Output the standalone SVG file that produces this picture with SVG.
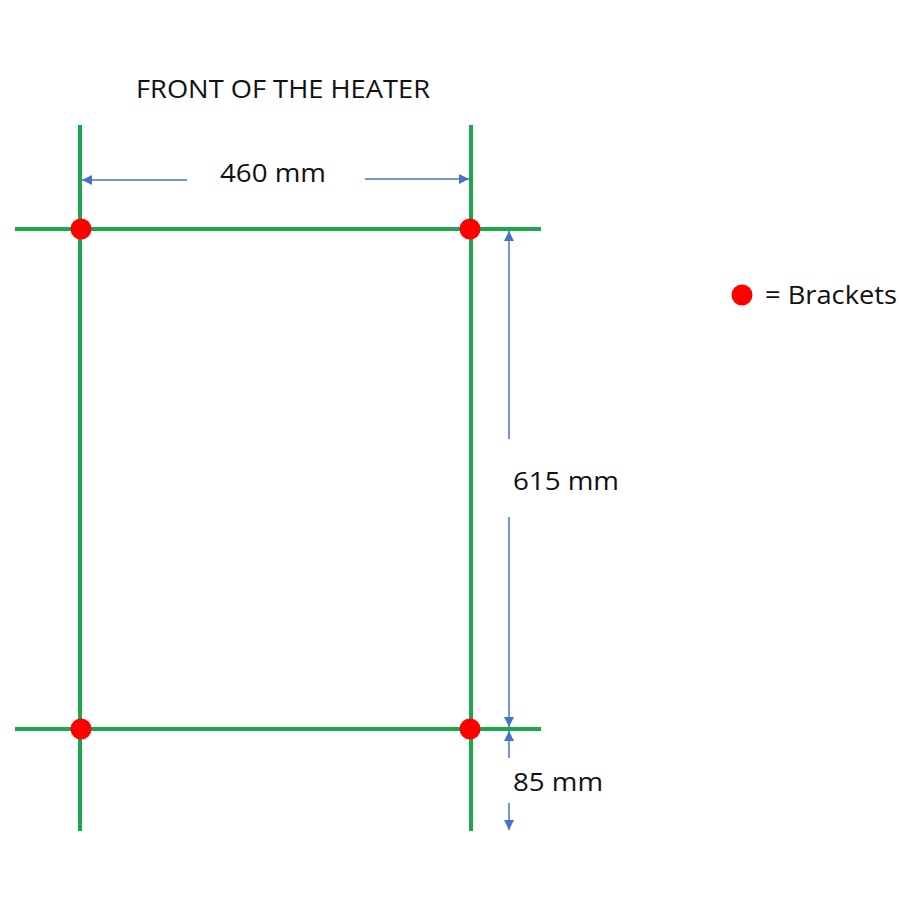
<svg xmlns="http://www.w3.org/2000/svg" width="900" height="900" viewBox="0 0 900 900">
<defs>
<style>
.g{stroke:#1aa84a;stroke-width:4;fill:none}
.b{stroke:#4472c4;stroke-width:1.5;fill:none}
.dot{fill:#ff0000}
.t{font-family:"Open Sans","Noto Sans",sans-serif;fill:#111;font-size:25px}
</style>
<marker id="ah" viewBox="0 0 10 10" refX="10" refY="5" markerWidth="10" markerHeight="10" markerUnits="userSpaceOnUse" orient="auto">
<path d="M0,0 L10,5 L0,10 Z" fill="#4472c4"/>
</marker>
</defs>
<rect width="900" height="900" fill="#fff"/>
<g id="frame">
<line class="g" x1="80" y1="125" x2="80" y2="831"/>
<line class="g" x1="471" y1="125" x2="471" y2="831"/>
<line class="g" x1="15" y1="229" x2="541" y2="229"/>
<line class="g" x1="15" y1="729" x2="541" y2="729"/>
</g>
<g id="brackets">
<circle class="dot" cx="81" cy="229" r="10.5"/>
<circle class="dot" cx="470" cy="229" r="10.5"/>
<circle class="dot" cx="81" cy="729" r="10.5"/>
<circle class="dot" cx="470" cy="729" r="10.5"/>
</g>
<g id="connectors">
<line class="b" x1="187" y1="180" x2="82" y2="180" marker-end="url(#ah)"/>
<line class="b" x1="365" y1="179" x2="469" y2="179" marker-end="url(#ah)"/>
<line class="b" x1="509" y1="439" x2="509" y2="231" marker-end="url(#ah)"/>
<line class="b" x1="509" y1="517" x2="509" y2="727" marker-end="url(#ah)"/>
<line class="b" x1="509" y1="758" x2="509" y2="731" marker-end="url(#ah)"/>
<line class="b" x1="509" y1="803" x2="509" y2="830" marker-end="url(#ah)"/>
</g>
<g id="labels">
<text class="t" x="136" y="98" textLength="294" lengthAdjust="spacingAndGlyphs">FRONT OF THE HEATER</text>
<text class="t" x="220" y="182" font-size="26" textLength="106" lengthAdjust="spacingAndGlyphs">460 mm</text>
<text class="t" x="513" y="490" font-size="26" textLength="106" lengthAdjust="spacingAndGlyphs">615 mm</text>
<text class="t" x="513" y="791" font-size="26" textLength="90" lengthAdjust="spacingAndGlyphs">85 mm</text>
</g>
<g id="legend">
<circle class="dot" cx="742" cy="295" r="10.5"/>
<text class="t" x="765" y="304" font-size="26" textLength="132" lengthAdjust="spacingAndGlyphs">= Brackets</text>
</g>
</svg>
